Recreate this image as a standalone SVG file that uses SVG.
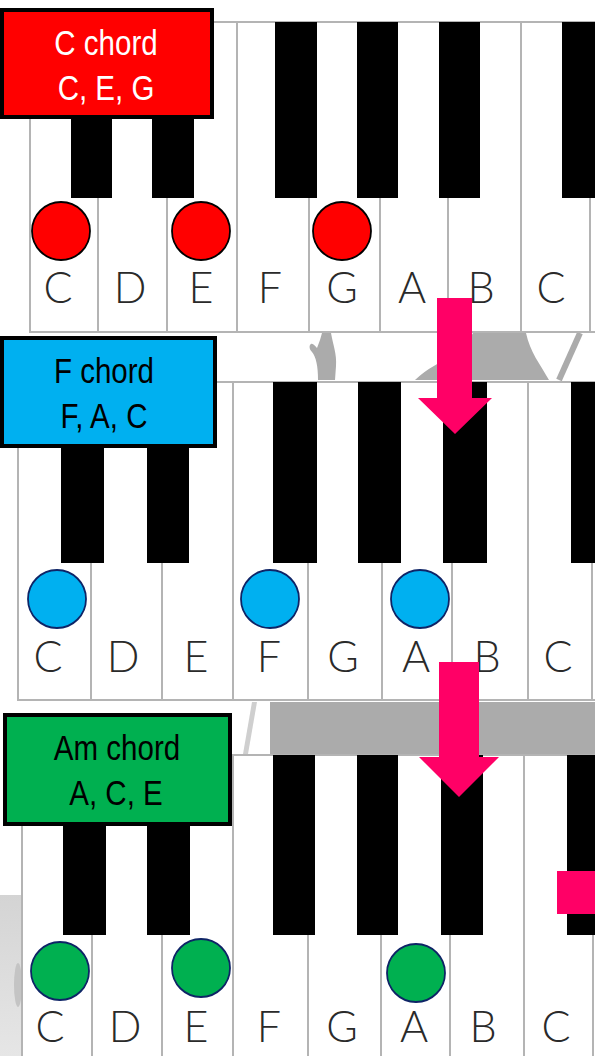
<svg xmlns="http://www.w3.org/2000/svg" width="595" height="1056" viewBox="0 0 595 1056">
<style>
.wk{fill:#ffffff;stroke:#b4b4b4;stroke-width:2}
.kl{stroke:#b4b4b4;stroke-width:2}
.bk{fill:#000000}
.nl{font-family:Lato,"DejaVu Sans",sans-serif;font-weight:300;font-size:43px;fill:#2a2a2a;text-anchor:middle}
.bt{font-family:"Liberation Sans",Arial,sans-serif;font-size:36px;text-anchor:middle}
.box{stroke:#000;stroke-width:4}
.red{fill:#FF0000;stroke:#000;stroke-width:1.8}
.blue{fill:#00B0F0;stroke:#0E2466;stroke-width:1.8}
.green{fill:#00B050;stroke:#0E2466;stroke-width:1.8}
.sil{fill:#ababab}
.arr{fill:#FF0066}
</style>
<defs>
<linearGradient id="lg" x1="0" y1="0" x2="0" y2="1">
<stop offset="0" stop-color="#d4d4d4"/>
<stop offset="1" stop-color="#e6e6e6"/>
</linearGradient>
</defs>
<rect width="595" height="1056" fill="#ffffff"/>

<!-- background photo fragments -->
<g id="background">
<path class="sil" d="M318,380 C318,366 316,357 312,352 C309,349 309,345 311,344 C313,343 315,346 317,348 L320,340 L322,333 L331,333 C333,345 337,354 336,366 L335,380 Z"/>
<path class="sil" d="M415,380 C428,368 440,362 452,357 L466,345 L473,333 L526,333 C530,352 540,364 549,380 Z"/>
<line x1="580" y1="333" x2="559" y2="380" stroke="#ababab" stroke-width="6"/>
<rect class="sil" x="270" y="702" width="325" height="52"/>
<polygon points="243,754 252,702 257,702 248,754" fill="#cfcfcf"/>
<rect x="0" y="895" width="21" height="161" fill="url(#lg)"/>
<ellipse cx="18" cy="985" rx="4" ry="22" fill="#c4c4c4"/>
</g>

<!-- top keyboard -->
<g id="keyboard-top">
<rect class="wk" x="30" y="22" width="580" height="310"/>
<line class="kl" x1="98" y1="22" x2="98" y2="332"/>
<line class="kl" x1="167" y1="22" x2="167" y2="332"/>
<line class="kl" x1="237" y1="22" x2="237" y2="332"/>
<line class="kl" x1="309" y1="22" x2="309" y2="332"/>
<line class="kl" x1="380" y1="22" x2="380" y2="332"/>
<line class="kl" x1="448" y1="22" x2="448" y2="332"/>
<line class="kl" x1="521" y1="22" x2="521" y2="332"/>
<line class="kl" x1="590" y1="22" x2="590" y2="332"/>
<rect class="bk" x="71" y="22" width="41" height="176"/>
<rect class="bk" x="152" y="22" width="42" height="176"/>
<rect class="bk" x="275" y="22" width="42" height="176"/>
<rect class="bk" x="357" y="22" width="41" height="176"/>
<rect class="bk" x="439" y="22" width="41" height="176"/>
<rect class="bk" x="562" y="22" width="42" height="176"/>
<text class="nl" x="58" y="303">C</text>
<text class="nl" x="130" y="303">D</text>
<text class="nl" x="201" y="303">E</text>
<text class="nl" x="270" y="303">F</text>
<text class="nl" x="342" y="303">G</text>
<text class="nl" x="412" y="303">A</text>
<text class="nl" x="481" y="303">B</text>
<text class="nl" x="551" y="303">C</text>
</g>

<!-- middle keyboard -->
<g id="keyboard-middle">
<rect class="wk" x="18" y="382" width="600" height="318"/>
<line class="kl" x1="91" y1="382" x2="91" y2="700"/>
<line class="kl" x1="162" y1="382" x2="162" y2="700"/>
<line class="kl" x1="233" y1="382" x2="233" y2="700"/>
<line class="kl" x1="308" y1="382" x2="308" y2="700"/>
<line class="kl" x1="382" y1="382" x2="382" y2="700"/>
<line class="kl" x1="452" y1="382" x2="452" y2="700"/>
<line class="kl" x1="528" y1="382" x2="528" y2="700"/>
<line class="kl" x1="592" y1="382" x2="592" y2="700"/>
<rect class="bk" x="61" y="382" width="43" height="181"/>
<rect class="bk" x="147" y="382" width="42" height="181"/>
<rect class="bk" x="273" y="382" width="44" height="181"/>
<rect class="bk" x="358" y="382" width="43" height="181"/>
<rect class="bk" x="443" y="382" width="44" height="181"/>
<rect class="bk" x="571" y="382" width="44" height="181"/>
<text class="nl" x="48" y="672">C</text>
<text class="nl" x="123" y="672">D</text>
<text class="nl" x="196" y="672">E</text>
<text class="nl" x="269" y="672">F</text>
<text class="nl" x="343" y="672">G</text>
<text class="nl" x="416" y="672">A</text>
<text class="nl" x="487" y="672">B</text>
<text class="nl" x="558" y="672">C</text>
</g>

<!-- bottom keyboard -->
<g id="keyboard-bottom">
<rect class="wk" x="22" y="755" width="600" height="320"/>
<line class="kl" x1="92" y1="755" x2="92" y2="1056"/>
<line class="kl" x1="162" y1="755" x2="162" y2="1056"/>
<line class="kl" x1="233" y1="755" x2="233" y2="1056"/>
<line class="kl" x1="308" y1="755" x2="308" y2="1056"/>
<line class="kl" x1="381" y1="755" x2="381" y2="1056"/>
<line class="kl" x1="450" y1="755" x2="450" y2="1056"/>
<line class="kl" x1="524" y1="755" x2="524" y2="1056"/>
<line class="kl" x1="593" y1="755" x2="593" y2="1056"/>
<rect class="bk" x="63" y="755" width="43" height="180"/>
<rect class="bk" x="147" y="755" width="43" height="180"/>
<rect class="bk" x="273" y="755" width="42" height="180"/>
<rect class="bk" x="357" y="755" width="41" height="180"/>
<rect class="bk" x="441" y="755" width="42" height="180"/>
<rect class="bk" x="567" y="755" width="43" height="180"/>
<text class="nl" x="50" y="1042">C</text>
<text class="nl" x="125" y="1042">D</text>
<text class="nl" x="196" y="1042">E</text>
<text class="nl" x="269" y="1042">F</text>
<text class="nl" x="342" y="1042">G</text>
<text class="nl" x="414" y="1042">A</text>
<text class="nl" x="483" y="1042">B</text>
<text class="nl" x="556" y="1042">C</text>
</g>

<!-- chord note markers -->
<g id="c-chord-notes">
<circle class="red" cx="61" cy="231" r="29"/>
<circle class="red" cx="201" cy="231" r="29"/>
<circle class="red" cx="342" cy="231" r="29"/>
</g>
<g id="f-chord-notes">
<circle class="blue" cx="57" cy="599" r="29"/>
<circle class="blue" cx="270" cy="599" r="29"/>
<circle class="blue" cx="420" cy="599" r="29"/>
</g>
<g id="am-chord-notes">
<circle class="green" cx="60" cy="971" r="29"/>
<circle class="green" cx="201" cy="968" r="29"/>
<circle class="green" cx="416" cy="973" r="29"/>
</g>

<!-- chord label boxes -->
<g id="c-chord">
<rect class="box" x="2" y="10" width="210" height="107" fill="#FF0000"/>
<text class="bt" transform="translate(106,55) scale(0.82,1)" fill="#ffffff">C chord</text>
<text class="bt" transform="translate(106,100) scale(0.82,1)" fill="#ffffff">C, E, G</text>
</g>
<g id="f-chord">
<rect class="box" x="2" y="338" width="213" height="108" fill="#00B0F0"/>
<text class="bt" transform="translate(104,383) scale(0.82,1)" fill="#000000">F chord</text>
<text class="bt" transform="translate(104,428) scale(0.82,1)" fill="#000000">F, A, C</text>
</g>
<g id="am-chord">
<rect class="box" x="5" y="715" width="225" height="109" fill="#00B050"/>
<text class="bt" transform="translate(117,760) scale(0.82,1)" fill="#000000">Am chord</text>
<text class="bt" transform="translate(116,805) scale(0.82,1)" fill="#000000">A, C, E</text>
</g>

<!-- connectors -->
<g id="connectors">
<polygon class="arr" points="437,298 472,298 472,398 492,398 455,434 418,398 437,398"/>
<polygon class="arr" points="439,662 479,662 479,757 499,757 459,797 419,757 439,757"/>
<rect class="arr" x="557" y="871" width="38" height="43"/>
</g>
</svg>
